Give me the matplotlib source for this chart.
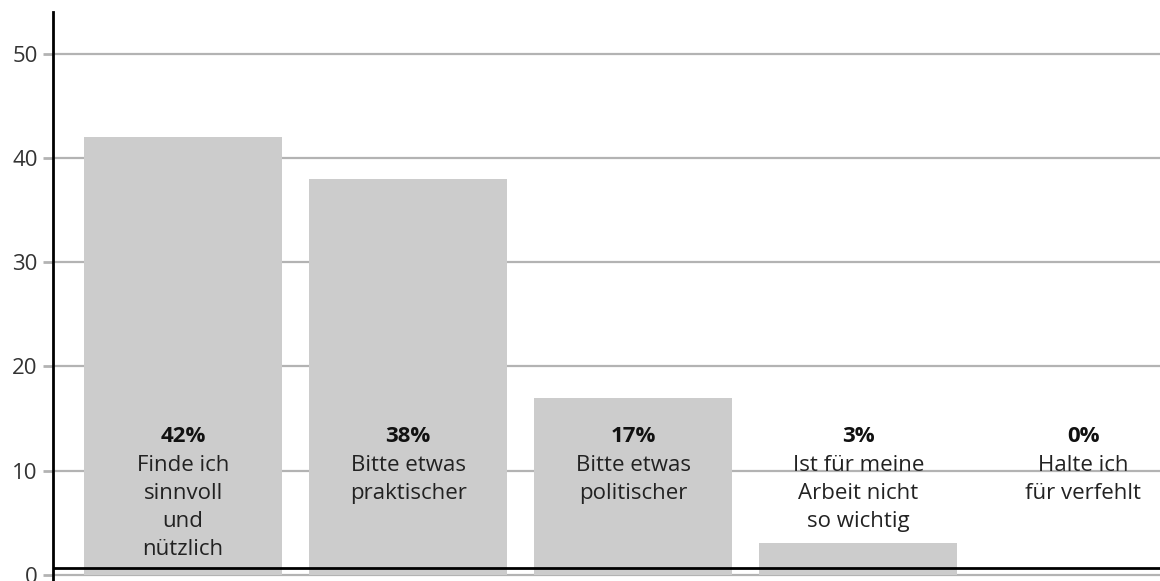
import matplotlib
matplotlib.use("Agg")
import matplotlib.pyplot as plt

plt.rcParams['font.family'] = ['Open Sans', 'DejaVu Sans']

# survey answers
shares = [42, 38, 17, 3, 0]
pct_labels = ["42%", "38%", "17%", "3%", "0%"]
answers = [
    "Finde ich\nsinnvoll\nund\nnützlich",
    "Bitte etwas\npraktischer",
    "Bitte etwas\npolitischer",
    "Ist für meine\nArbeit nicht\nso wichtig",
    "Halte ich\nfür verfehlt",
]
yticks = [0, 10, 20, 30, 40, 50]

fig = plt.figure(figsize=(11.6, 5.81), dpi=100)
ax = fig.add_axes([53 / 1160, 0, 1 - 53 / 1160, 1 - 12 / 581])

x = list(range(len(shares)))
ax.bar(x, shares, width=0.88, color='#cccccc', zorder=2)

for i in x:
    ax.text(i, 14.3, pct_labels[i], ha='center', va='top', fontsize=16,
            fontweight='bold', color='#111111', zorder=3)
    ax.text(i, 11.45, answers[i], ha='center', va='top', fontsize=16,
            color='#222222', linespacing=1.43, zorder=3)

ax.set_xlim(-0.578, 4.34)
ax.set_ylim(-0.6, 54)
ax.set_yticks(yticks)
ax.set_yticklabels([str(t) for t in yticks], fontsize=16, color='#333333')
ax.set_xticks([])
ax.tick_params(axis='y', length=7, width=2, color='#b3b3b3', pad=4)
ax.yaxis.grid(True, color='#b3b3b3', linewidth=1.6, zorder=1)
ax.set_axisbelow(True)

for side in ['top', 'right', 'bottom']:
    ax.spines[side].set_visible(False)
ax.spines['left'].set_linewidth(2)
ax.spines['left'].set_color('black')
ax.axhline(0.6, color='black', linewidth=2, zorder=4)

fig.savefig("out.png", dpi=100)
